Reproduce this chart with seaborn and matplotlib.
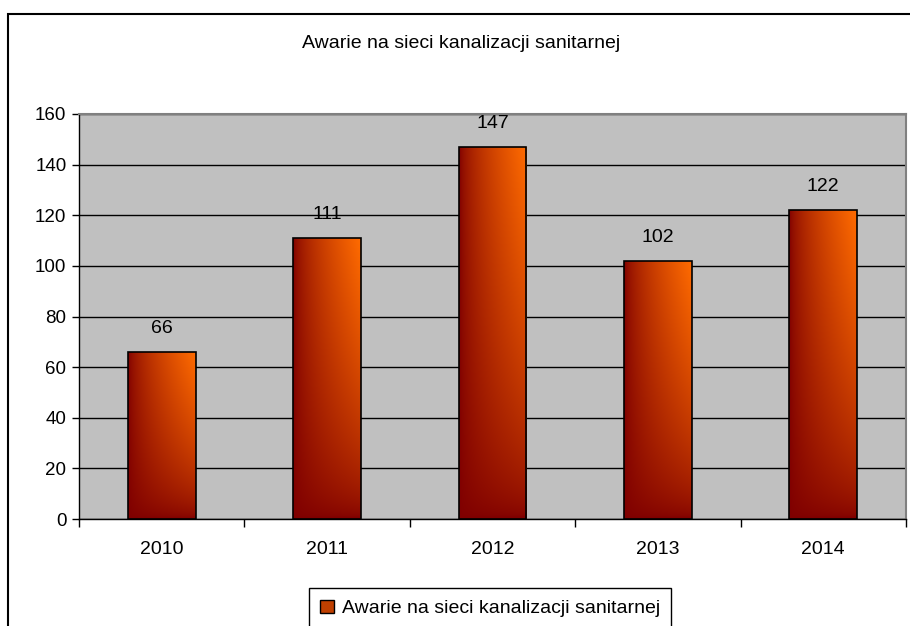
import numpy as np
import pandas as pd
import matplotlib
matplotlib.use("Agg")
import matplotlib.pyplot as plt
import seaborn as sns
from matplotlib.patches import Patch, Rectangle

years = ["2010", "2011", "2012", "2013", "2014"]
failures = [66, 111, 147, 102, 122]
series_name = "Awarie na sieci kanalizacji sanitarnej"
y_ticks = [0, 20, 40, 60, 80, 100, 120, 140, 160]

plt.rcParams["font.family"] = ["Liberation Sans", "DejaVu Sans"]
plt.rcParams["font.size"] = 14

df = pd.DataFrame({"year": years, "count": failures})

fig = plt.figure(figsize=(9.1, 6.26), dpi=100)
ax = fig.add_axes([79 / 910, 1 - 519 / 626, 827 / 910, 405 / 626])
ax.set_facecolor("#C0C0C0")

sns.barplot(data=df, x="year", y="count", color="#C04000", width=0.41,
            edgecolor="black", linewidth=1.2, ax=ax, zorder=3)

# gradient fill inside each bar (dark red -> orange, towards top right)
dark = np.array([0.50, 0.0, 0.0])
orange = np.array([1.0, 0.42, 0.0])
u = np.linspace(0, 1, 60)[None, :]
v = np.linspace(0, 1, 120)[:, None]
t = (u ** 0.65) * (v ** 0.6)
grad = dark + t[..., None] * (orange - dark)

for bar in ax.patches:
    x0 = bar.get_x()
    w = bar.get_width()
    h = bar.get_height()
    im = ax.imshow(grad, extent=[x0, x0 + w, 0, h], origin="lower",
                   aspect="auto", zorder=3.5, interpolation="bilinear")
    im.set_clip_path(bar)
    bar.set_facecolor("none")
    bar.set_zorder(4)
    ax.annotate(f"{int(h)}", (x0 + w / 2, h), xytext=(0, 17),
                textcoords="offset points", ha="center", va="center",
                fontsize=14, zorder=5)

ax.set_xlim(-0.5, len(years) - 0.5)
ax.set_ylim(0, 160)
ax.set_yticks(y_ticks)
ax.yaxis.grid(True, color="black", linewidth=1)
ax.set_axisbelow(True)
ax.set_xlabel("")
ax.set_ylabel("")

ax.set_xticks(range(len(years)))
ax.set_xticklabels(years, fontsize=14)
ax.tick_params(axis="x", which="major", length=0, pad=16)
ax.set_xticks(np.arange(-0.5, len(years), 1.0), minor=True)
ax.tick_params(axis="x", which="minor", length=6, width=1, direction="out")
ax.tick_params(axis="y", length=5, width=1, direction="out", pad=4,
               labelsize=13.5)

for side in ["left", "bottom"]:
    ax.spines[side].set_color("black")
    ax.spines[side].set_linewidth(1)
for side in ["top", "right"]:
    ax.spines[side].set_color("#808080")
    ax.spines[side].set_linewidth(1.5)

fig.text(461 / 910, 1 - 43 / 626, series_name, ha="center", va="center",
         fontsize=14)

handle = Patch(facecolor="#C04000", edgecolor="black", label=series_name)
fig.legend(handles=[handle], loc="upper center",
           bbox_to_anchor=(490 / 910, 1 - 588 / 626), frameon=True,
           fancybox=False, edgecolor="black", framealpha=1, fontsize=14,
           handlelength=0.7, handleheight=0.7, handletextpad=0.4,
           borderpad=0.6, borderaxespad=0)

# outer chart frame (runs off the right and bottom edges)
fig.patches.append(Rectangle((8 / 910, -0.2), 1.2, 1 - 14 / 626 + 0.2,
                             transform=fig.transFigure, fill=False,
                             edgecolor="black", linewidth=1.5,
                             clip_on=False))

fig.savefig("out.png", dpi=100)
